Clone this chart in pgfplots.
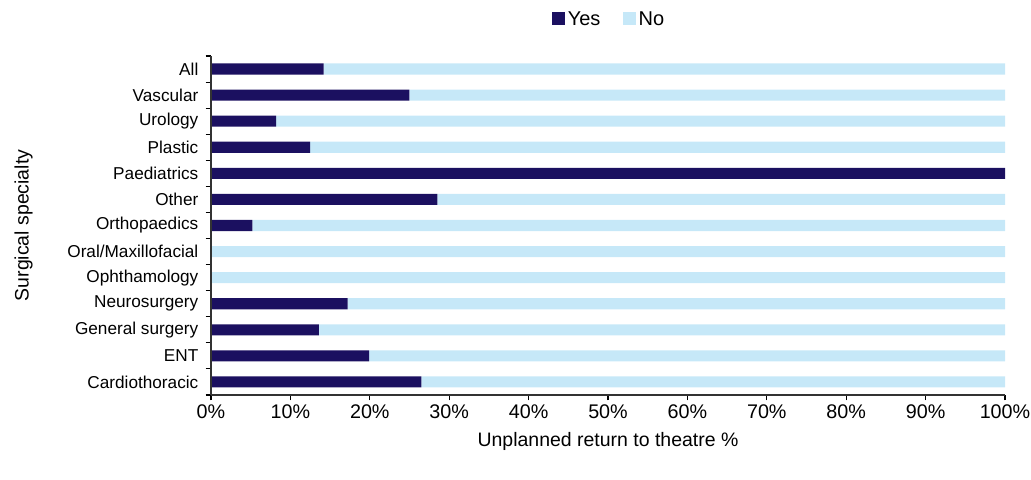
\documentclass[border=0pt]{standalone}
\usepackage{pgfplots}
\pgfplotsset{compat=1.18}
\usepackage{fontspec}
\setmainfont{Liberation Sans}
\definecolor{yesc}{RGB}{27,16,96}
\definecolor{noc}{RGB}{198,232,248}
\begin{document}
\begin{tikzpicture}
\fontsize{12.9pt}{15pt}\selectfont
\begin{axis}[
  scale only axis,
  axis on top,
  width=595.5pt, height=254.25pt,
  xbar stacked,
  bar width=8.3pt,
  xmin=0, xmax=100,
  ymin=-0.5, ymax=12.5,
  axis x line*=bottom,
  axis y line*=left,
  axis line style={black!80, line width=1pt},
  xtick={0,10,...,100},
  xticklabel={\pgfmathprintnumber{\tick}\%},
  /pgf/number format/assume math mode=true,
  ytick={-0.5,0.5,...,12.5},
  yticklabels={},
  extra y ticks={0,...,12},
  extra y tick labels={Cardiothoracic,ENT,General surgery,Neurosurgery,Ophthamology,Oral/Maxillofacial,Orthopaedics,Other,Paediatrics,Plastic,Urology,Vascular,All},
  extra y tick style={major tick length=0pt, yticklabel style={xshift=-5pt}},
  major tick length=4pt,
  tick style={black, line width=0.8pt},
  tick align=outside,
  yticklabel style={font=\fontsize{12.9pt}{15pt}\selectfont},
  xticklabel style={yshift=1pt, font=\fontsize{14.8pt}{17pt}\selectfont},
  xlabel={Unplanned return to theatre \%},
  ylabel={Surgical specialty},
  xlabel style={at={(axis description cs:0.5,-0.136)}, anchor=center, font=\fontsize{14.6pt}{17pt}\selectfont},
  ylabel style={at={(axis description cs:-0.236,0.5)}, anchor=center, font=\fontsize{14.6pt}{17pt}\selectfont},
  legend columns=2,
  legend style={at={(axis description cs:0.502,1.106)}, anchor=center, draw=none, fill=none, font=\fontsize{15pt}{17pt}\selectfont, /tikz/every even column/.append style={column sep=15pt}},
  legend image code/.code={\fill[#1] (0cm,-0.14cm) rectangle (0.34cm,0.21cm);},
]
\addplot[fill=yesc, draw=none] coordinates {
(26.5,0) (19.9,1) (13.6,2) (17.2,3) (0,4) (0,5) (5.2,6) (28.5,7) (100,8) (12.5,9) (8.2,10) (25.0,11) (14.2,12)};
\addplot[fill=noc, draw=none] coordinates {
(73.5,0) (80.1,1) (86.4,2) (82.8,3) (100,4) (100,5) (94.8,6) (71.5,7) (0,8) (87.5,9) (91.8,10) (75.0,11) (85.8,12)};
\legend{Yes,No}
\end{axis}
\pgfresetboundingbox
\path[use as bounding box] ([xshift=-158.25pt,yshift=-63.75pt]current axis.south west) rectangle ([xshift=19.5pt,yshift=42pt]current axis.north east);
\end{tikzpicture}
\end{document}
